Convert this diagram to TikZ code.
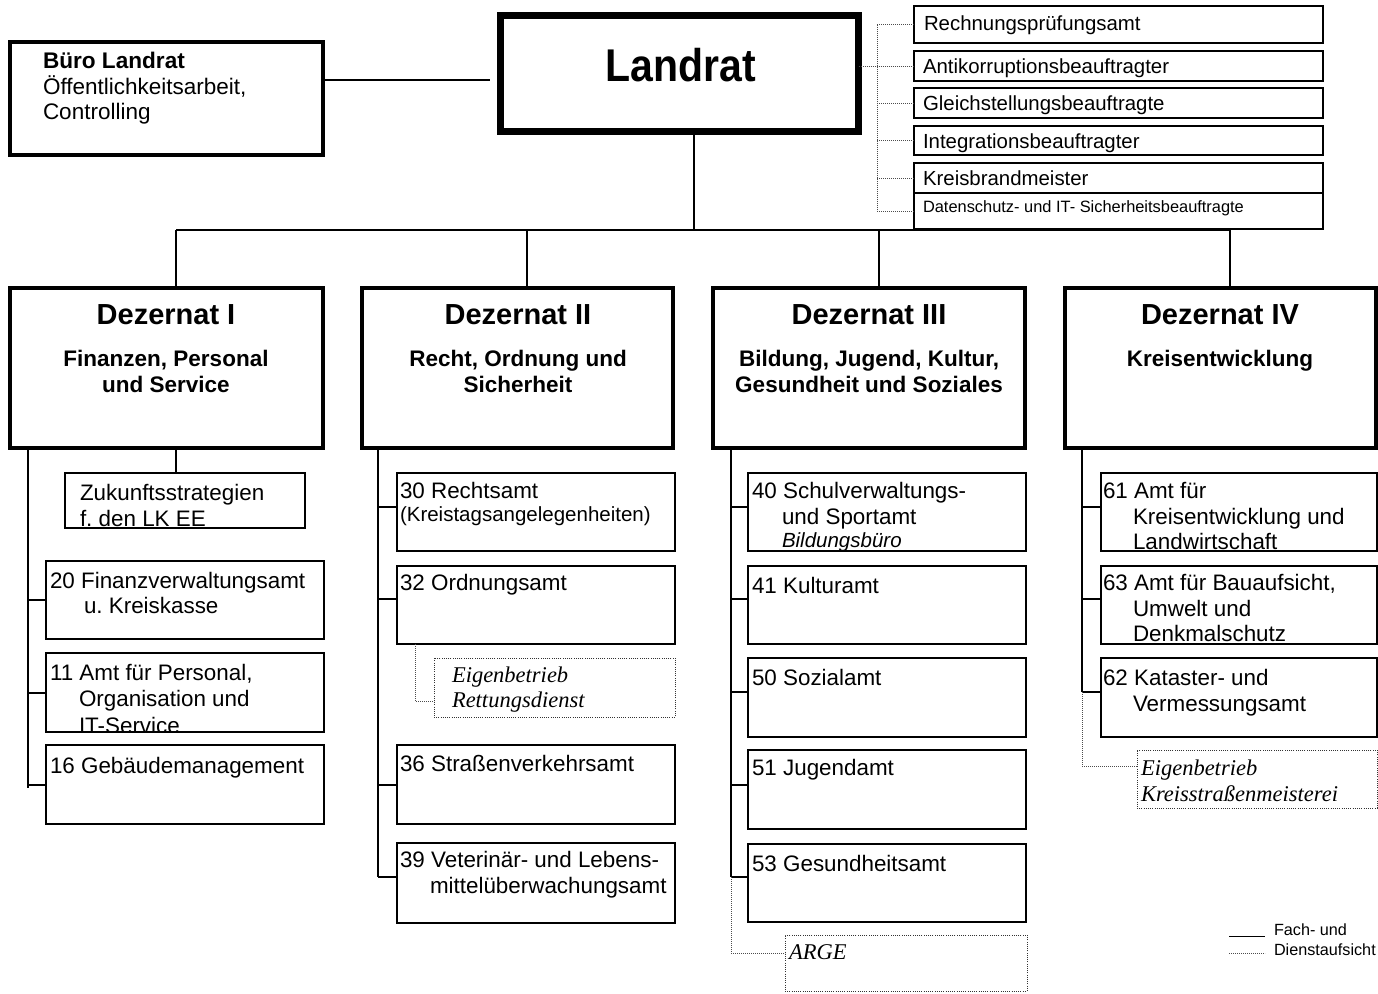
\documentclass[tikz,border=0pt]{standalone}
\usepackage{graphicx}
\usepackage{fontspec}
\setmainfont{Liberation Sans}
\newfontfamily\tnr{Liberation Serif}
\newcommand\fsz[1]{\fontsize{#1}{#1}\selectfont}
\frenchspacing
\begin{document}
\begin{tikzpicture}[x=1pt,y=-1pt,
  box/.style={draw, line width=1.3pt, inner sep=0, outer sep=0, anchor=north west},
  staffbox/.style={box, line width=1.8pt},
  thickbox/.style={box, line width=4pt},
  dotbox/.style={box, line width=1pt, dash pattern=on 1pt off 1.2pt, draw=black!80},
  conn/.style={line width=1.3pt},
  tick/.style={line width=2pt},
  dots/.style={line width=0.9pt, dash pattern=on 0.9pt off 1.1pt, draw=black!70},
  t/.style={inner sep=0, outer sep=0, anchor=base west, font=\fsz{22.4}},
  ts/.style={t, font=\fsz{20.4}},
  tst/.style={t, font=\fsz{16.4}},
  tsm/.style={t, font=\fsz{20.5}},
  tit/.style={t, font=\itshape\fsz{20.5}},
  tser/.style={t, font=\tnr\itshape\fsz{22.5}},
  dtitle/.style={inner sep=0, outer sep=0, anchor=base, font=\bfseries\fsz{29}},
  dsub/.style={inner sep=0, outer sep=0, anchor=base, font=\bfseries\fsz{22.5}},
  leg/.style={t, font=\fsz{16.2}}
]
\useasboundingbox (0,0) rectangle (1378,993);
\fill[white] (0,0) rectangle (1378,993);

% ---------- boxes ----------
\node[box, line width=7pt, minimum width=358pt, minimum height=116pt] (landrat) at (500.5,15.5) {};
\node[thickbox, minimum width=313pt, minimum height=113pt] (buero) at (10,42) {};
\node[thickbox, minimum width=313pt, minimum height=160pt] (dI) at (10,288) {};
\node[thickbox, minimum width=311pt, minimum height=160pt] (dII) at (362,288) {};
\node[thickbox, minimum width=312pt, minimum height=160pt] (dIII) at (713,288) {};
\node[thickbox, minimum width=311pt, minimum height=160pt] (dIV) at (1065,288) {};

\node[staffbox, minimum width=409pt, minimum height=37pt] (st1) at (914,6) {};
\node[staffbox, minimum width=409pt, minimum height=30pt] (st2) at (914,51) {};
\node[staffbox, minimum width=409pt, minimum height=30pt] (st3) at (914,88) {};
\node[staffbox, minimum width=409pt, minimum height=29pt] (st4) at (914,126) {};
\node[staffbox, minimum width=409pt, minimum height=30pt] (st5) at (914,163) {};
\node[staffbox, minimum width=409pt, minimum height=36pt] (st6) at (914,193) {};

\node[box, minimum width=240pt, minimum height=55pt] (zuk) at (65,473) {};
\node[box, minimum width=278pt, minimum height=78pt] (b20) at (46,561) {};
\node[box, minimum width=278pt, minimum height=79pt] (b11) at (46,653) {};
\node[box, minimum width=278pt, minimum height=79pt] (b16) at (46,745) {};

\node[box, minimum width=278pt, minimum height=78pt] (b30) at (397,473) {};
\node[box, minimum width=278pt, minimum height=78pt] (b32) at (397,566) {};
\node[dotbox, minimum width=241pt, minimum height=59pt] (eb1) at (434,658) {};
\node[box, minimum width=278pt, minimum height=79pt] (b36) at (397,745) {};
\node[box, minimum width=278pt, minimum height=80pt] (b39) at (397,843) {};

\node[box, minimum width=278pt, minimum height=78pt] (b40) at (748,473) {};
\node[box, minimum width=278pt, minimum height=78pt] (b41) at (748,566) {};
\node[box, minimum width=278pt, minimum height=79pt] (b50) at (748,658) {};
\node[box, minimum width=278pt, minimum height=79pt] (b51) at (748,750) {};
\node[box, minimum width=278pt, minimum height=78pt] (b53) at (748,844) {};
\node[dotbox, minimum width=242pt, minimum height=56pt] (arge) at (785,935) {};

\node[box, minimum width=276pt, minimum height=78pt] (b61) at (1101,473) {};
\node[box, minimum width=276pt, minimum height=78pt] (b63) at (1101,566) {};
\node[box, minimum width=276pt, minimum height=79pt] (b62) at (1101,658) {};
\node[dotbox, minimum width=240pt, minimum height=58pt] (eb2) at (1137,750) {};

% ---------- connectors ----------
\coordinate (bl) at (490,80);
\draw[conn] (buero.east |- bl) -- (bl);
\coordinate (lv) at (694,230);
\draw[conn] (landrat.south -| lv) -- (lv);
\coordinate (c1) at (176,230);
\coordinate (c2) at (527,230);
\coordinate (c3) at (879,230);
\coordinate (c4) at (1230,230);
\draw[conn] (c1) -- (c4);
\draw[conn] (c1) -- (c1 |- dI.north);
\draw[conn] (c2) -- (c2 |- dII.north);
\draw[conn] (c3) -- (c3 |- dIII.north);
\draw[conn] (c4) -- (c4 |- dIV.north);

% staff (dotted)
\coordinate (sv) at (877,0);
\draw[dots] (sv |- st1.west) -- (sv |- st6.west);
\foreach \s in {st1,st3,st4,st5,st6} \draw[dots] (sv |- \s.west) -- (\s.west);
\draw[dots] (landrat.east |- st2.west) -- (st2.west);

% Dezernat I
\coordinate (s1b) at (28,788);
\draw[conn] (dI.south -| s1b) -- (s1b);
\draw[conn] (dI.south -| c1) -- (zuk.north -| c1);
\foreach \b in {b20,b11,b16} \draw[tick] (\b.west) -- (\b.west -| s1b);

% Dezernat II
\coordinate (s2b) at (378,877);
\draw[conn] (dII.south -| s2b) -- (s2b);
\draw[tick] ([yshift=5pt]b30.west) -- ++(-19,0);
\draw[tick] ([yshift=6pt]b32.west) -- ++(-19,0);
\draw[tick] (b36.west) -- ++(-19,0);
\draw[tick] ([yshift=6pt]b39.west) -- ++(-19,0);
\coordinate (d2) at (415,701);
\draw[dots] (b32.south -| d2) -- (d2) -- (d2 -| eb1.west);

% Dezernat III
\coordinate (s3b) at (731,877);
\draw[conn] (dIII.south -| s3b) -- (s3b);
\draw[tick] ([yshift=5pt]b40.west) -- ++(-17,0);
\draw[tick] ([yshift=6pt]b41.west) -- ++(-17,0);
\draw[tick] ([yshift=5.5pt]b50.west) -- ++(-17,0);
\draw[tick] ([yshift=4.5pt]b51.west) -- ++(-17,0);
\draw[tick] ([yshift=6pt]b53.west) -- ++(-17,0);
\draw[dots] (s3b) |- ([yshift=10pt]arge.west);

% Dezernat IV
\coordinate (s4b) at (1082,692);
\draw[conn] (dIV.south -| s4b) -- (s4b);
\draw[tick] ([yshift=5pt]b61.west) -- ++(-19,0);
\draw[tick] ([yshift=6pt]b63.west) -- ++(-19,0);
\draw[tick] ([yshift=5.5pt]b62.west) -- ++(-19,0);
\draw[dots] (s4b) |- ([yshift=13pt]eb2.west);

% ---------- texts ----------
\node[inner sep=0, anchor=base, font=\bfseries\fsz{41}] (tland) at (681,81) {\scalebox{1}[1.12]{Landrat}};
\node[t, font=\bfseries\fsz{22.6}] (tb1) at (43,68) {Büro Landrat};
\node[t, font=\fsz{22.5}] (tb2) at (43,94) {Öffentlichkeitsarbeit,};
\node[t, font=\fsz{22.5}] (tb3) at (43,119) {Controlling};

\node[ts] (ts1) at (924,30) {Rechnungsprüfungsamt};
\node[ts] (ts2) at (923,73) {Antikorruptionsbeauftragter};
\node[ts] (ts3) at (923,110) {Gleichstellungsbeauftragte};
\node[ts] (ts4) at (923,148) {Integrationsbeauftragter};
\node[ts] (ts5) at (923,185) {Kreisbrandmeister};
\node[tst] (ts6) at (923,212) {Datenschutz- und IT- Sicherheitsbeauftragte};

\node[dtitle] (tdI) at (166,324) {Dezernat I};
\node[dsub] (tdIa) at (166,366) {Finanzen, Personal};
\node[dsub] (tdIb) at (166,392) {und Service};
\node[dtitle] (tdII) at (518,324) {Dezernat II};
\node[dsub] (tdIIa) at (518,366) {Recht, Ordnung und};
\node[dsub] (tdIIb) at (518,392) {Sicherheit};
\node[dtitle] (tdIII) at (869,324) {Dezernat III};
\node[dsub] (tdIIIa) at (869,366) {Bildung, Jugend, Kultur,};
\node[dsub] (tdIIIb) at (869,392) {Gesundheit und Soziales};
\node[dtitle] (tdIV) at (1220,324) {Dezernat IV};
\node[dsub] (tdIVa) at (1220,366) {Kreisentwicklung};

% Dezernat I
\node[t] (tzuk1) at (80,500) {Zukunftsstrategien};
\begin{scope}
\clip (zuk.north west) rectangle (zuk.south east);
\node[t] (tzuk2) at (80,526) {f. den LK EE};
\end{scope}
\node[t] (t20a) at (50,588) {20 Finanzverwaltungsamt};
\node[t] (t20b) at (84,613) {u. Kreiskasse};
\node[t] (t11a) at (50,680) {11 Amt für Personal,};
\node[t] (t11b) at (79,706) {Organisation und};
\begin{scope}
\clip (b11.north west) rectangle (b11.south east);
\node[t] (t11c) at (79,733) {IT-Service};
\end{scope}
\node[t] (t16) at (50,773) {16 Gebäudemanagement};

% Dezernat II
\node[t] (t30a) at (400,498) {30 Rechtsamt};
\node[tsm] (t30b) at (400,521) {(Kreistagsangelegenheiten)};
\node[t] (t32) at (400,590) {32 Ordnungsamt};
\node[tser] (te1a) at (452,682) {Eigenbetrieb};
\node[tser] (te1b) at (452,707) {Rettungsdienst};
\node[t] (t36) at (400,771) {36 Straßenverkehrsamt};
\node[t] (t39a) at (400,867) {39 Veterinär- und Lebens-};
\node[t] (t39b) at (430,893) {mittelüberwachungsamt};

% Dezernat III
\node[t] (t40a) at (752,498) {40 Schulverwaltungs-};
\node[t] (t40b) at (782,524) {und Sportamt};
\begin{scope}
\clip (b40.north west) rectangle (b40.south east);
\node[tit] (t40c) at (782,547) {Bildungsbüro};
\end{scope}
\node[t] (t41) at (752,593) {41 Kulturamt};
\node[t] (t50) at (752,685) {50 Sozialamt};
\node[t] (t51) at (752,775) {51 Jugendamt};
\node[t] (t53) at (752,871) {53 Gesundheitsamt};
\node[tser] (targe) at (789,959) {ARGE};

% Dezernat IV
\node[t] (t61a) at (1103,498) {61 Amt für};
\node[t] (t61b) at (1133,524) {Kreisentwicklung und};
\begin{scope}
\clip (b61.north west) rectangle (b61.south east);
\node[t] (t61c) at (1133,549) {Landwirtschaft};
\end{scope}
\node[t] (t63a) at (1103,590) {63 Amt für Bauaufsicht,};
\node[t] (t63b) at (1133,616) {Umwelt und};
\begin{scope}
\clip (b63.north west) rectangle (b63.south east);
\node[t] (t63c) at (1133,641) {Denkmalschutz};
\end{scope}
\node[t] (t62a) at (1103,685) {62 Kataster- und};
\node[t] (t62b) at (1133,711) {Vermessungsamt};
\node[tser] (te2a) at (1141,775) {Eigenbetrieb};
\node[tser] (te2b) at (1141,801) {Kreisstraßenmeisterei};

% ---------- legend ----------
\coordinate (lg1) at (1229,936);
\coordinate (lg2) at (1265,936);
\coordinate (lg3) at (1229,953);
\coordinate (lg4) at (1265,953);
\draw[line width=1pt] (lg1) -- (lg2);
\draw[dots] (lg3) -- (lg4);
\node[leg] (tlg1) at (1274,935) {Fach- und};
\node[leg] (tlg2) at (1274,955) {Dienstaufsicht};
\end{tikzpicture}
\end{document}
